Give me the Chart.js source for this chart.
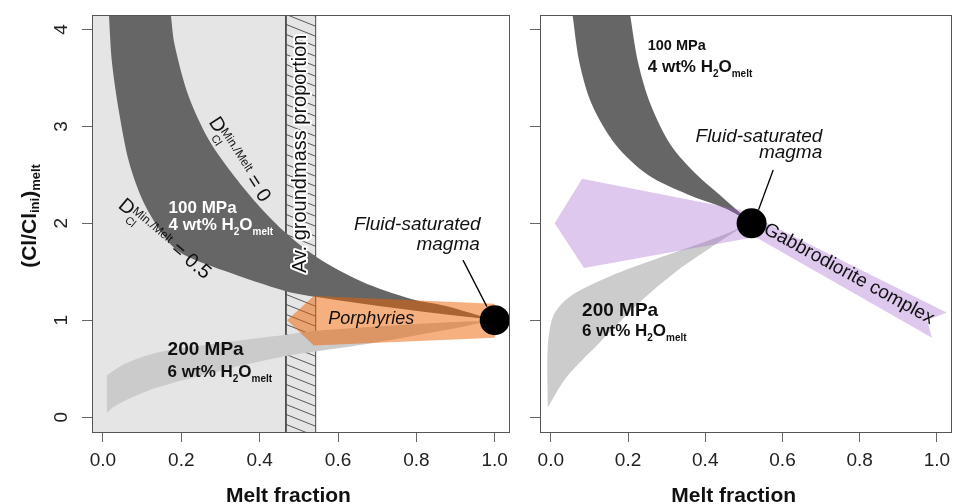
<!DOCTYPE html>
<html>
<head>
<meta charset="utf-8">
<script src="https://cdn.jsdelivr.net/npm/chart.js@4.4.0/dist/chart.umd.min.js"></script>
<style>
  html, body { margin: 0; padding: 0; background: #fff; }
  #wrap { position: relative; width: 967px; height: 504px; }
  canvas { position: absolute; top: 0; }
</style>
</head>
<body>
<div id="wrap">
  <canvas id="leftPanel" width="525" height="504" style="left:0"></canvas>
  <canvas id="rightPanel" width="442" height="504" style="left:525px"></canvas>
</div>
<script>
// axis ranges and ticks
const xMin = -0.028, xMax = 1.039, yMin = -0.164, yMax = 4.15;
const xTickStep = 0.2, yTickStep = 1;

// ---- left panel (porphyries) ----
const greyFieldX = [-0.1, 0.543];          // crystal-rich field
const groundmassX = [0.467, 0.543];        // av. groundmass proportion
const left100Upper = [[0.173, 4.16], [0.183, 3.84], [0.218, 3.32], [0.269, 2.87], [0.327, 2.53], [0.396, 2.19],
  [0.467, 1.9], [0.546, 1.65], [0.66, 1.40], [0.787, 1.22], [0.873, 1.15], [1.0, 1.0]];
const left100Lower = [[0.015, 4.16], [0.023, 3.66], [0.041, 3.15], [0.066, 2.64], [0.099, 2.26], [0.142, 1.95],
  [0.193, 1.71], [0.31, 1.51], [0.467, 1.30], [0.546, 1.24], [0.754, 1.12], [1.0, 1.0]];
const left200Upper = [[0.01, 0.43], [0.056, 0.55], [0.142, 0.67], [0.31, 0.77], [0.467, 0.85], [0.546, 0.89],
  [0.8, 0.96], [1.0, 1.0]];
const left200Lower = [[0.01, 0.04], [0.025, 0.10], [0.056, 0.17], [0.142, 0.31], [0.31, 0.49], [0.467, 0.63],
  [0.546, 0.68], [0.69, 0.766], [0.85, 0.88], [1.0, 1.0]];
const porphyries = [[0.47, 1.0], [0.538, 1.25], [1.0, 1.17], [1.0, 0.82], [0.538, 0.74]];
const leftMagma = [[1.0, 1.0]];
const leftPointer = [[0.919, 1.62], [0.98, 1.14]];

// ---- right panel (gabbrodiorite) ----
const right100Outer = [[0.056, 4.16], [0.074, 3.66], [0.107, 3.22], [0.168, 2.81], [0.251, 2.50], [0.353, 2.30],
  [0.454, 2.15], [0.52, 2.0]];
const right100Inner = [[0.205, 4.16], [0.226, 3.66], [0.259, 3.22], [0.31, 2.81], [0.378, 2.50], [0.447, 2.26],
  [0.487, 2.12], [0.52, 2.0]];
const right200Outer = [[-0.008, 0.10], [-0.008, 0.72], [0.005, 1.03], [0.036, 1.2], [0.081, 1.32], [0.157, 1.46],
  [0.25, 1.6], [0.35, 1.74], [0.44, 1.87], [0.52, 2.0]];
const right200Inner = [[-0.008, 0.10], [0.04, 0.41], [0.124, 0.76], [0.226, 1.17], [0.327, 1.51], [0.411, 1.74],
  [0.48, 1.92], [0.52, 2.0]];
const gabbrodiorite = [[0.01, 2.0], [0.081, 2.46], [0.49, 2.14], [1.025, 1.08], [0.975, 1.0], [0.987, 0.82],
  [0.53, 1.86], [0.086, 1.54]];
const rightMagma = [[0.52, 2.0]];
const rightPointer = [[0.576, 2.55], [0.538, 2.14]];

const FAM = "'Liberation Sans', Arial, Helvetica, sans-serif";

const pts = a => a.map(p => ({ x: p[0], y: p[1] }));
const band = (a, b) => pts(a.concat(b.slice().reverse()));
const rect = xs => pts([[xs[0], yMin - 1], [xs[1], yMin - 1], [xs[1], yMax + 1], [xs[0], yMax + 1], [xs[0], yMin - 1]]);

function area(data, color, order, extra) {
  return Object.assign({
    data: data, showLine: true, fill: 'shape', backgroundColor: color,
    borderColor: 'rgba(0,0,0,0)', borderWidth: 0, pointRadius: 0, tension: 0, order: order
  }, extra || {});
}
// smooth curved band between two read-off curves
const smooth = { tension: 0.3, capBezierPoints: false };

function segment(data, order) {
  return { data: pts(data), showLine: true, fill: false, borderColor: '#000', borderWidth: 1.3, pointRadius: 0, order: order };
}
function dot(data, order) {
  return { data: pts(data), showLine: false, pointRadius: 15, pointBackgroundColor: '#000', pointBorderWidth: 0, order: order };
}

function hatchPattern() {
  const c = document.createElement('canvas');
  c.width = 25; c.height = 10;
  const g = c.getContext('2d');
  g.strokeStyle = '#333';
  g.lineWidth = 0.8;
  for (let k = -1; k <= 1; k++) {
    g.beginPath(); g.moveTo(0, 10 * k); g.lineTo(25, 10 * k + 10); g.stroke();
  }
  return g.createPattern(c, 'repeat');
}

function font(p) {
  return (p.i ? 'italic ' : '') + (p.b ? 'bold ' : '') + p.s + 'px ' + FAM;
}
function richWidth(ctx, parts) {
  let w = 0, hold = 0;
  parts.forEach(p => {
    ctx.font = font(p);
    const pw = ctx.measureText(p.t).width;
    if (p.stack) hold = pw; else { w += Math.max(pw, hold); hold = 0; }
  });
  return w;
}
// draws text with sub/superscripts; o: {align, angle, color, halo, baseline}
function drawRich(ctx, parts, x, y, o) {
  ctx.save();
  ctx.translate(x, y);
  if (o.angle) ctx.rotate(o.angle * Math.PI / 180);
  ctx.textBaseline = o.baseline || 'alphabetic';
  ctx.textAlign = 'left';
  const w = richWidth(ctx, parts);
  let cx = o.align === 'center' ? -w / 2 : o.align === 'right' ? -w : 0;
  let hold = 0;
  parts.forEach(p => {
    ctx.font = font(p);
    const pw = ctx.measureText(p.t).width;
    if (o.halo) {
      ctx.strokeStyle = o.halo; ctx.lineWidth = 4; ctx.lineJoin = 'round';
      ctx.strokeText(p.t, cx, p.dy || 0);
    }
    ctx.fillStyle = o.color || '#111';
    ctx.fillText(p.t, cx, p.dy || 0);
    if (p.stack) hold = pw; else { cx += Math.max(pw, hold); hold = 0; }
  });
  ctx.restore();
}

const waterLine = n => [{ t: n + ' wt% H', s: 17, b: 1 }, { t: '2', s: 10, b: 1, dy: 5 },
  { t: 'O', s: 17, b: 1 }, { t: 'melt', s: 10, b: 1, dy: 5 }];
const dLabel = v => [{ t: 'D', s: 20 }, { t: 'Cl', s: 11, dy: 9, stack: true },
  { t: 'Min./Melt', s: 12, dy: -3 }, { t: ' = ' + v, s: 20 }];

function frame(ctx, a) {
  ctx.save();
  ctx.strokeStyle = '#555';
  ctx.lineWidth = 1;
  ctx.strokeRect(Math.round(a.left) + 0.5, Math.round(a.top) + 0.5,
    Math.round(a.right - a.left) - 1, Math.round(a.bottom - a.top) - 1);
  ctx.restore();
}
function xTitle(ctx, a) {
  drawRich(ctx, [{ t: 'Melt fraction', s: 21, b: 1 }], a.left + 0.47 * (a.right - a.left), 502, { align: 'center', color: '#111' });
}

function makeChart(id, datasets, yWidth, padRight, draw) {
  return new Chart(document.getElementById(id), {
    type: 'scatter',
    data: { datasets: datasets },
    options: {
      responsive: false,
      animation: false,
      events: [],
      layout: { padding: { top: 12, right: padRight, left: 0, bottom: 0 } },
      plugins: { legend: { display: false }, tooltip: { enabled: false } },
      scales: {
        x: {
          type: 'linear', min: xMin, max: xMax,
          afterFit: s => { s.height = 71; },
          border: { display: false },
          grid: { drawOnChartArea: false, tickLength: 9, color: '#666' },
          ticks: { stepSize: xTickStep, includeBounds: false, maxRotation: 0, padding: 7,
            color: '#222', font: { size: 19, family: FAM }, callback: v => v.toFixed(1) }
        },
        y: {
          type: 'linear', min: yMin, max: yMax,
          afterFit: s => { s.width = yWidth; },
          border: { display: false },
          grid: { drawOnChartArea: false, tickLength: 10, color: '#666' },
          ticks: { stepSize: yTickStep, includeBounds: false, display: false }
        }
      }
    },
    plugins: [{
      id: 'decor',
      afterDatasetsDraw(chart) {
        const { ctx, chartArea, scales } = chart;
        frame(ctx, chartArea);
        xTitle(ctx, chartArea);
        draw(ctx, scales.x, scales.y, chartArea);
      }
    }]
  });
}

// left panel
makeChart('leftPanel', [
  area(rect(greyFieldX), '#e5e5e5', 20),
  area(rect(groundmassX), hatchPattern(), 19, { borderColor: '#444', borderWidth: 1 }),
  area(band(left100Upper, left100Lower), '#666666', 18, smooth),
  area(band(left200Upper, left200Lower), '#cbcbcb', 17, smooth),
  area(pts(porphyries), 'rgba(237,97,1,0.5)', 15),
  segment(leftPointer, 3),
  dot(leftMagma, 1)
], 92, 13, (ctx, x, y) => {
  const X = v => x.getPixelForValue(v), Y = v => y.getPixelForValue(v);
  // y tick labels, rotated as in the original
  y.ticks.forEach(t => {
    drawRich(ctx, [{ t: String(t.value), s: 19 }], 62, Y(t.value), { align: 'center', angle: -90, baseline: 'middle', color: '#222' });
  });
  drawRich(ctx, [{ t: '(Cl/Cl', s: 21, b: 1 }, { t: 'ini', s: 13, b: 1, dy: 5 }, { t: ')', s: 21, b: 1 },
    { t: 'melt', s: 13, b: 1, dy: 6 }], 30, 216, { align: 'center', angle: -90, baseline: 'middle', color: '#111' });

  drawRich(ctx, [{ t: 'Av. groundmass proportion', s: 20 }], X(0.505), Y(2.718),
    { align: 'center', angle: -90, baseline: 'middle', color: '#111', halo: '#fff' });
  drawRich(ctx, dLabel('0'), X(0.348), Y(2.656), { align: 'center', angle: 57, baseline: 'middle' });
  drawRich(ctx, dLabel('0.5'), X(0.157), Y(1.836), { align: 'center', angle: 40, baseline: 'middle' });
  drawRich(ctx, [{ t: '100 MPa', s: 17, b: 1 }], X(0.1675), Y(2.103), { color: '#fff' });
  drawRich(ctx, waterLine(4), X(0.1675), Y(1.928), { color: '#fff' });
  drawRich(ctx, [{ t: '200 MPa', s: 19, b: 1 }], X(0.165), Y(0.636), {});
  drawRich(ctx, waterLine(6), X(0.165), Y(0.41), {});
  drawRich(ctx, [{ t: 'Porphyries', s: 18, i: 1 }], X(0.685), Y(1.015), { align: 'center', baseline: 'middle' });
  drawRich(ctx, [{ t: 'Fluid-saturated', s: 19, i: 1 }], X(0.964), Y(1.928), { align: 'right' });
  drawRich(ctx, [{ t: 'magma', s: 19, i: 1 }], X(0.962), Y(1.723), { align: 'right' });
});

// right panel
makeChart('rightPanel', [
  area(band(right100Inner, right100Outer), '#666666', 18, smooth),
  area(band(right200Outer, right200Inner), '#cccccc', 17, smooth),
  area(pts(gabbrodiorite), 'rgba(161,98,206,0.35)', 15),
  segment(rightPointer, 3),
  dot(rightMagma, 1)
], 12, 9, (ctx, x, y) => {
  const X = v => x.getPixelForValue(v), Y = v => y.getPixelForValue(v);
  drawRich(ctx, [{ t: '100 MPa', s: 14.5, b: 1 }], X(0.251), Y(3.785), {});
  drawRich(ctx, waterLine(4), X(0.251), Y(3.559), {});
  drawRich(ctx, [{ t: 'Fluid-saturated', s: 19, i: 1 }], X(0.703), Y(2.841), { align: 'right' });
  drawRich(ctx, [{ t: 'magma', s: 19, i: 1 }], X(0.703), Y(2.677), { align: 'right' });
  drawRich(ctx, [{ t: 'Gabbrodiorite complex', s: 19 }], X(0.772), Y(1.477), { align: 'center', angle: 28.7, baseline: 'middle' });
  drawRich(ctx, [{ t: '200 MPa', s: 19, b: 1 }], X(0.081), Y(1.046), {});
  drawRich(ctx, waterLine(6), X(0.081), Y(0.841), {});
});
</script>
</body>
</html>
